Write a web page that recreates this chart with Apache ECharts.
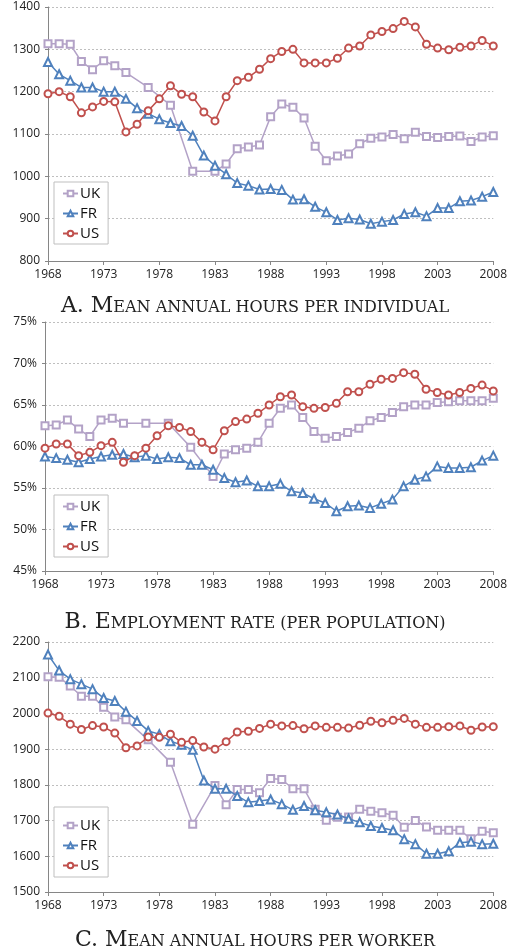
<!DOCTYPE html>
<html>
<head>
<meta charset="utf-8">
<script src="https://cdn.jsdelivr.net/npm/echarts@6/dist/echarts.min.js"></script>
<style>html,body{margin:0;padding:0;background:#fff;}#c{width:510px;height:949px;}</style>
</head>
<body>
<div id="c"></div>
<script>
const years = [];
for (let y = 1968; y <= 2008; y++) years.push(String(y));

const ukHoursInd = [1313,1313,1312,1271,1252,1273,1261,1245,null,1210,null,1168,null,1012,null,1012,1029,1065,1069,1074,1141,1171,1163,1138,1071,1037,1048,1053,1077,1090,1093,1099,1089,1104,1094,1092,1094,1095,1082,1093,1096];
const frHoursInd = [1270,1241,1226,1210,1210,1200,1200,1183,1161,1148,1135,1126,1119,1096,1049,1025,1005,984,978,969,970,968,945,946,928,915,897,901,898,888,893,897,911,915,906,925,925,941,943,952,963];
const usHoursInd = [1195,1200,1188,1150,1164,1177,1176,1105,1123,1155,1183,1214,1194,1188,1152,1131,1188,1226,1234,1253,1278,1295,1300,1268,1268,1268,1279,1303,1308,1334,1342,1349,1366,1353,1312,1303,1299,1305,1308,1321,1308];

const ukEmp = [62.5,62.6,63.2,62.1,61.2,63.2,63.4,62.8,null,62.8,null,62.8,null,59.9,null,56.4,59.1,59.6,59.8,60.5,62.8,64.6,65.0,63.5,61.8,61.0,61.2,61.7,62.2,63.1,63.5,64.1,64.8,65.0,65.0,65.3,65.4,65.5,65.5,65.5,65.8];
const frEmp = [58.8,58.6,58.4,58.1,58.5,58.8,59.0,59.1,58.7,58.9,58.5,58.7,58.6,57.8,57.8,57.2,56.2,55.7,55.9,55.2,55.2,55.5,54.6,54.4,53.7,53.2,52.2,52.8,52.9,52.6,53.1,53.6,55.2,56.0,56.4,57.6,57.4,57.4,57.5,58.3,58.9];
const usEmp = [59.8,60.3,60.3,58.9,59.3,60.1,60.5,58.1,58.9,59.8,61.3,62.5,62.3,61.8,60.5,59.6,61.9,63.0,63.3,64.0,65.0,66.0,66.2,64.8,64.6,64.7,65.2,66.6,66.6,67.5,68.1,68.2,68.9,68.7,66.9,66.5,66.2,66.5,67.0,67.4,66.7];

const ukHoursWkr = [2103,2101,2077,2048,2048,2017,1990,1982,null,1926,null,1863,null,1690,null,1798,1744,1787,1787,1778,1818,1815,1789,1789,1732,1701,1709,1710,1732,1726,1722,1715,1681,1700,1682,1673,1673,1673,1649,1670,1666];
const frHoursWkr = [2165,2120,2096,2082,2068,2043,2035,2005,1979,1951,1942,1922,1912,1898,1812,1789,1789,1769,1751,1755,1759,1746,1730,1741,1729,1723,1717,1705,1695,1685,1679,1673,1648,1634,1607,1607,1614,1638,1641,1634,1635];
const usHoursWkr = [2001,1992,1970,1955,1966,1962,1945,1904,1909,1934,1933,1942,1919,1924,1906,1900,1921,1948,1950,1958,1970,1965,1966,1957,1965,1961,1961,1959,1967,1978,1974,1981,1986,1970,1961,1961,1963,1965,1953,1962,1963];

const countryNames = ['UK', 'FR', 'US'];
const titleA = ['A. M', 'EAN ANNUAL HOURS PER INDIVIDUAL'];
const titleB = ['B. E', 'MPLOYMENT RATE (PER POPULATION)'];
const titleC = ['C. M', 'EAN ANNUAL HOURS PER WORKER'];

const colors = { UK: '#B3A2C7', FR: '#4F81BD', US: '#C0504D' };
const symbols = { UK: 'emptyRect', FR: 'emptyTriangle', US: 'emptyCircle' };
const labelFont = 'Open Sans';
const serif = 'DejaVu Serif';

const panels = [
  { grid: { left: 48, width: 449, top: 7, height: 254 }, min: 800, max: 1400, interval: 100, pct: false,
    data: [ukHoursInd, frHoursInd, usHoursInd], title: titleA, titleTop: 288, legendTop: 182, legendPad: [4, 8, 3, 8] },
  { grid: { left: 45, width: 452, top: 322, height: 249 }, min: 45, max: 75, interval: 5, pct: true,
    data: [ukEmp, frEmp, usEmp], title: titleB, titleTop: 604, legendTop: 495, legendPad: [4, 8, 3, 8] },
  { grid: { left: 48, width: 449, top: 642, height: 250 }, min: 1500, max: 2200, interval: 100, pct: false,
    data: [ukHoursWkr, frHoursWkr, usHoursWkr], title: titleC, titleTop: 922, legendTop: 807, legendPad: [11, 8, 4, 8] }
];

const option = {
  animation: false,
  backgroundColor: '#fff',
  grid: [], xAxis: [], yAxis: [], series: [], legend: [], title: []
};

panels.forEach((p, i) => {
  option.grid.push(Object.assign({ containLabel: false }, p.grid));
  option.xAxis.push({
    type: 'category', gridIndex: i, data: years, boundaryGap: false,
    axisLine: { lineStyle: { color: '#868686', width: 1 } },
    axisTick: { show: true, interval: 4, length: 4, lineStyle: { color: '#868686' } },
    axisLabel: { interval: 4, margin: 8, color: '#222', fontFamily: labelFont, fontSize: 12 },
    splitLine: { show: false }
  });
  option.yAxis.push({
    type: 'value', gridIndex: i, min: p.min, max: p.max, interval: p.interval,
    axisLine: { show: true, lineStyle: { color: '#868686', width: 1 } },
    axisTick: { show: true, length: 3, lineStyle: { color: '#868686' } },
    axisLabel: {
      formatter: p.pct ? (v) => String(v) + '%' : (v) => String(v),
      margin: 8, color: '#222', fontFamily: labelFont, fontSize: 12
    },
    splitLine: { show: true, lineStyle: { color: '#bfbfbf', type: [2, 2], width: 1 } }
  });
  countryNames.forEach((name, k) => {
    option.series.push({
      type: 'line', name: name, xAxisIndex: i, yAxisIndex: i, data: p.data[k],
      connectNulls: true, symbol: symbols[name], symbolSize: name === 'FR' ? 8 : 7,
      showSymbol: true, showAllSymbol: true, color: colors[name],
      lineStyle: { width: 1.5, color: colors[name] },
      itemStyle: { color: colors[name], borderWidth: 1.5 },
      z: k === 0 ? 2 : 3
    });
  });
  option.legend.push({
    data: countryNames, orient: 'vertical', left: 54, top: p.legendTop,
    itemWidth: 15, itemHeight: 7, itemGap: 5,
    borderColor: '#bfbfbf', borderWidth: 1, backgroundColor: '#fff',
    padding: p.legendPad, selectedMode: false,
    textStyle: { fontFamily: labelFont, fontSize: 15, color: '#111', padding: [0, 0, 0, -3] }
  });
  option.title.push({
    text: '{a|' + p.title[0] + '}{b|' + p.title[1] + '}',
    left: 'center', top: p.titleTop,
    textStyle: {
      fontWeight: 'normal',
      rich: {
        a: { fontFamily: serif, fontSize: 22, fontWeight: 'normal', color: '#222', verticalAlign: 'bottom', lineHeight: 24 },
        b: { fontFamily: serif, fontSize: 16, fontWeight: 'normal', color: '#222', verticalAlign: 'bottom', lineHeight: 24, padding: [0, 0, 1, 0] }
      }
    }
  });
});

const chart = echarts.init(document.getElementById('c'), null, { renderer: 'canvas' });
chart.setOption(option);
</script>
</body>
</html>
